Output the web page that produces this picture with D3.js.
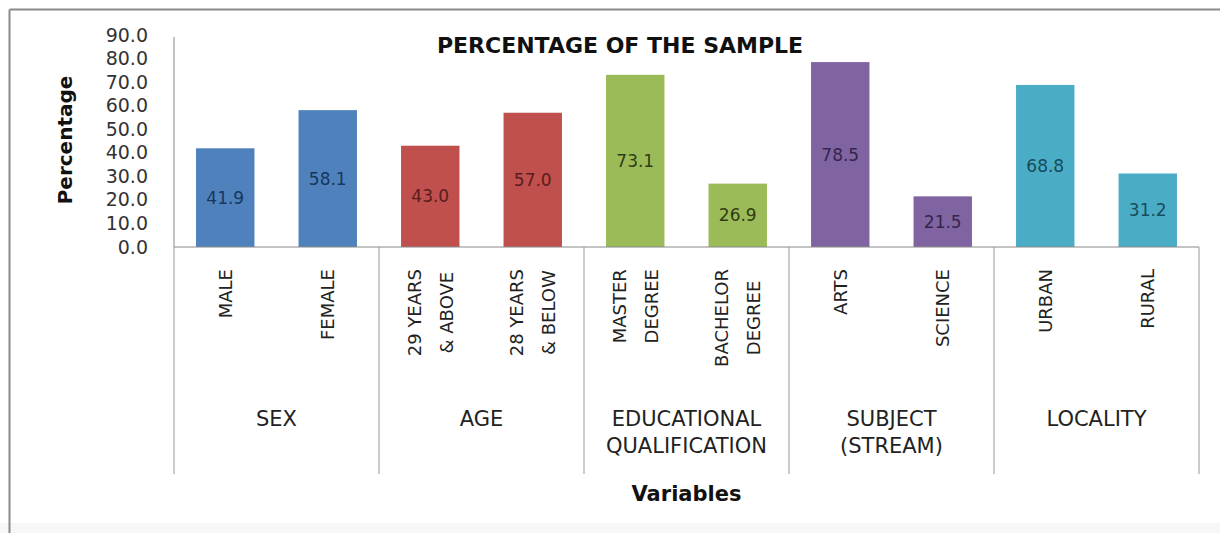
<!DOCTYPE html>
<html lang="en">
<head>
    <meta charset="UTF-8">
    <title>Percentage of the Sample</title>
    <script src="https://d3js.org/d3.v7.min.js"></script>
    <style>
        body {
            margin: 0;
            background: #fff;
        }
        svg {
            font-family: "DejaVu Sans", Arial, sans-serif;
            display: block;
        }
    </style>
</head>
<body>
    <script>
        // chart data
        const categories = ["MALE", "FEMALE", "29 YEARS|& ABOVE", "28 YEARS|& BELOW",
            "MASTER|DEGREE", "BACHELOR|DEGREE", "ARTS", "SCIENCE", "URBAN", "RURAL"];
        const values = [41.9, 58.1, 43.0, 57.0, 73.1, 26.9, 78.5, 21.5, 68.8, 31.2];
        const groups = ["SEX", "AGE", "EDUCATIONAL|QUALIFICATION", "SUBJECT|(STREAM)", "LOCALITY"];
        const groupOf = [0, 0, 1, 1, 2, 2, 3, 3, 4, 4];
        const yTicks = [0, 10, 20, 30, 40, 50, 60, 70, 80, 90];

        const groupColors = ["#4f81bd", "#c0504d", "#9bbb59", "#8064a2", "#4bacc6"];
        const labelColors = ["#17375e", "#5a1c1b", "#2f3d14", "#33264a", "#144e5c"];

        const W = 1220, H = 533;
        const plot = { left: 174, right: 1199, top: 35, bottom: 247 };

        const svg = d3.select("body").append("svg")
            .attr("width", W)
            .attr("height", H);

        // outer frame
        svg.append("rect").attr("x", 0).attr("y", 523).attr("width", W).attr("height", 10).attr("fill", "#f7f7f7");
        svg.append("line").attr("x1", 9.5).attr("x2", W).attr("y1", 9.5).attr("y2", 9.5)
            .attr("stroke", "#8a8a8a").attr("stroke-width", 2);
        svg.append("line").attr("x1", 9.5).attr("x2", 9.5).attr("y1", 9.5).attr("y2", 533)
            .attr("stroke", "#8a8a8a").attr("stroke-width", 2);

        const x = d3.scaleBand()
            .domain(d3.range(categories.length))
            .range([plot.left, plot.right])
            .paddingInner(0.43)
            .paddingOuter(0.215);

        const y = d3.scaleLinear()
            .domain([0, 90])
            .range([plot.bottom, plot.top]);

        // y axis
        const yAxis = svg.append("g")
            .attr("transform", `translate(${plot.left},0)`)
            .call(d3.axisLeft(y).tickValues(yTicks).tickFormat(d3.format(".1f")).tickSize(0).tickPadding(26));
        yAxis.select(".domain").attr("stroke", "#888").attr("d", `M0,${plot.top + 2}V${plot.bottom}`);
        yAxis.selectAll("text")
            .attr("font-size", "19px")
            .attr("fill", "#333")
            .attr("font-family", "DejaVu Sans");

        // bars
        svg.selectAll("rect.bar")
            .data(values)
            .join("rect")
            .attr("class", "bar")
            .attr("x", (d, i) => x(i))
            .attr("y", d => y(d))
            .attr("width", x.bandwidth())
            .attr("height", d => y(0) - y(d))
            .attr("fill", (d, i) => groupColors[groupOf[i]]);

        // value labels in the middle of each bar
        svg.selectAll("text.val")
            .data(values)
            .join("text")
            .attr("class", "val")
            .attr("x", (d, i) => x(i) + x.bandwidth() / 2)
            .attr("y", d => (y(d) + y(0)) / 2)
            .attr("text-anchor", "middle")
            .attr("dominant-baseline", "central")
            .attr("font-size", "17px")
            .attr("fill", (d, i) => labelColors[groupOf[i]])
            .text(d => d.toFixed(1));

        // baseline
        svg.append("line")
            .attr("x1", plot.left).attr("x2", plot.right)
            .attr("y1", y(0)).attr("y2", y(0))
            .attr("stroke", "#888");

        // group separators
        const sepBottom = 474;
        const step = x.step();
        const bounds = d3.range(groups.length + 1).map(g => plot.left + g * 2 * step);
        svg.selectAll("line.sep")
            .data(bounds)
            .join("line")
            .attr("class", "sep")
            .attr("x1", d => d).attr("x2", d => d)
            .attr("y1", y(0)).attr("y2", sepBottom)
            .attr("stroke", "#999");

        // rotated category labels, lines centred on each other, block top at labelTop
        const labelTop = 269;
        categories.forEach((c, i) => {
            const lines = c.split("|");
            const cx = x(i) + x.bandwidth() / 2;
            const g = svg.append("g").attr("transform", `translate(${cx},${labelTop}) rotate(-90)`);
            const texts = lines.map((t, k) => g.append("text")
                .attr("y", (k - (lines.length - 1) / 2) * 32)
                .attr("dominant-baseline", "central")
                .attr("text-anchor", "middle")
                .attr("font-size", "18px")
                .attr("fill", "#222")
                .text(t));
            const maxLen = d3.max(texts, t => t.node().getComputedTextLength());
            texts.forEach(t => t.attr("x", -maxLen / 2));
        });

        // group labels
        groups.forEach((gName, gi) => {
            const lines = gName.split("|");
            const cx = (bounds[gi] + bounds[gi + 1]) / 2;
            lines.forEach((t, k) => {
                svg.append("text")
                    .attr("x", cx)
                    .attr("y", 419 + k * 27)
                    .attr("text-anchor", "middle")
                    .attr("dominant-baseline", "central")
                    .attr("font-size", "21px")
                    .attr("fill", "#222")
                    .text(t);
            });
        });

        // titles
        svg.append("text")
            .attr("x", 620).attr("y", 45)
            .attr("text-anchor", "middle")
            .attr("dominant-baseline", "central")
            .attr("font-size", "22px")
            .attr("font-weight", "bold")
            .attr("fill", "#111")
            .text("PERCENTAGE OF THE SAMPLE");

        svg.append("text")
            .attr("transform", "translate(65,140) rotate(-90)")
            .attr("text-anchor", "middle")
            .attr("dominant-baseline", "central")
            .attr("font-size", "20px")
            .attr("font-weight", "bold")
            .attr("fill", "#111")
            .text("Percentage");

        svg.append("text")
            .attr("x", (plot.left + plot.right) / 2).attr("y", 494)
            .attr("text-anchor", "middle")
            .attr("dominant-baseline", "central")
            .attr("font-size", "21px")
            .attr("font-weight", "bold")
            .attr("fill", "#111")
            .text("Variables");
    </script>
</body>
</html>
